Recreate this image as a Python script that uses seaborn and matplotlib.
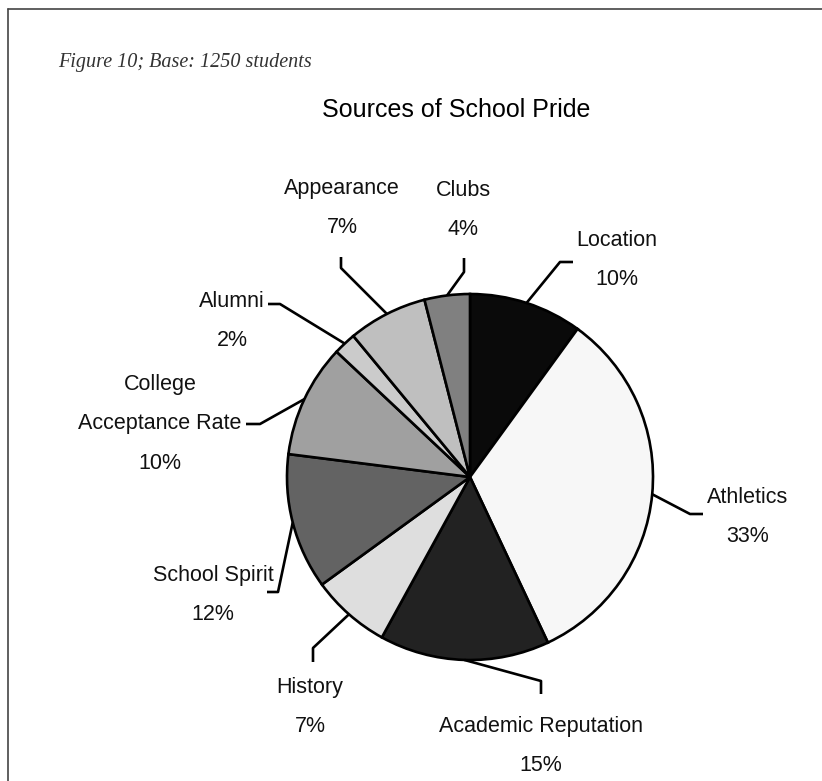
import matplotlib
matplotlib.use("Agg")
import matplotlib.pyplot as plt
import seaborn as sns
import numpy as np

# ---- data ----
categories = ["Location", "Athletics", "Academic Reputation", "History",
              "School Spirit", "College\nAcceptance Rate", "Alumni",
              "Appearance", "Clubs"]
values = [10, 33, 15, 7, 12, 10, 2, 7, 4]
colors = ["#0a0a0a", "#f7f7f7", "#222222", "#dedede", "#636363",
          "#a0a0a0", "#cbcbcb", "#bfbfbf", "#808080"]
title = "Sources of School Pride"
subtitle = "Figure 10; Base: 1250 students"

sns.set_theme(style="white")
plt.rcParams['font.family'] = ['Liberation Sans', 'DejaVu Sans']

W, H = 822, 781
fig = plt.figure(figsize=(W / 100, H / 100), dpi=100)
ax = fig.add_axes([0, 0, 1, 1])

def Y(y):
    return H - y

cx, cy, R = 470, 477, 183
wedges, _ = ax.pie(values, colors=colors, startangle=90, counterclock=False,
                   center=(cx, Y(cy)), radius=R, frame=False,
                   wedgeprops=dict(edgecolor="black", linewidth=1.9))
ax.set_xlim(0, W)
ax.set_ylim(0, H)
ax.set_aspect('equal')
ax.axis('off')

# label layout (image px): text block centre, elbow, end of leader
layout = [
    ((617, 260), (560, 262), (573, 262)),
    ((748, 517), (690, 514), (703, 514)),
    ((541, 746), (541, 681), (541, 694)),
    ((310, 707), (313, 648), (313, 662)),
    ((213, 595), (278, 592), (267, 592)),
    ((160, 424), (260, 424), (246, 424)),
    ((232, 321), (280, 304), (268, 304)),
    ((342, 208), (341, 268), (341, 257)),
    ((463, 210), (464, 272), (464, 258)),
]

total = sum(values)
for w, cat, v, (tc, el, en) in zip(wedges, categories, values, layout):
    mid = np.deg2rad((w.theta1 + w.theta2) / 2)
    ex = cx + R * np.cos(mid)
    ey = Y(cy) + R * np.sin(mid)
    ax.plot([ex, el[0], en[0]], [ey, Y(el[1]), Y(en[1])], color="black",
            lw=1.9, solid_capstyle="butt", zorder=3)
    ax.text(tc[0], Y(tc[1]), f"{cat}\n{round(100 * v / total)}%",
            ha="center", va="center", fontsize=15.5, linespacing=2.15,
            color="#111111")

ax.text(456, Y(110), title, ha="center", va="center", fontsize=18,
        color="black")
ax.text(58, Y(63), subtitle, ha="left", va="center", fontsize=14.5,
        style="italic", family=["Liberation Serif", "DejaVu Serif"],
        color="#333333")

# frame: top and left
ax.plot([8, W], [Y(9), Y(9)], color="#444444", lw=1.2, clip_on=False)
ax.plot([8, 8], [Y(9), 0], color="#444444", lw=1.2, clip_on=False)

fig.savefig("out.png", dpi=100, facecolor="white")
